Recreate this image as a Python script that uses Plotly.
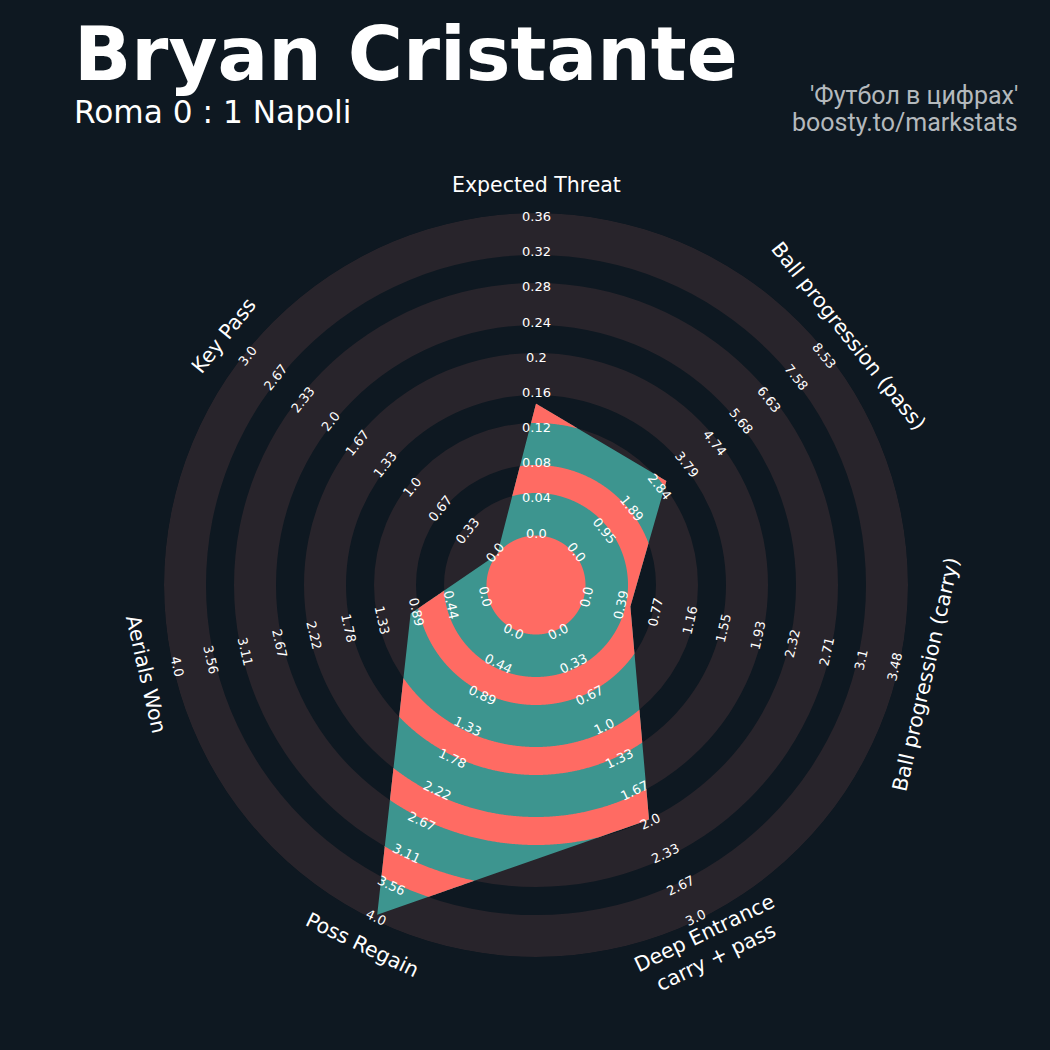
import numpy as np
import plotly.graph_objects as go

# ---------------- data ----------------
params = ["Expected Threat", "Ball progression (pass)", "Ball progression (carry)",
          "Deep Entrance<br>carry + pass", "Poss Regain", "Aerials Won", "Key Pass"]
values = [0.15, 3.16, 0.52, 2.0, 4.0, 1.0, 0.0]
min_range = [0.0, 0.0, 0.0, 0.0, 0.0, 0.0, 0.0]
max_range = [0.36, 8.53, 3.48, 3.0, 4.0, 4.0, 3.0]
tick_xt = ["0.0", "0.04", "0.08", "0.12", "0.16", "0.2", "0.24", "0.28", "0.32", "0.36"]
tick_pass = ["0.0", "0.95", "1.89", "2.84", "3.79", "4.74", "5.68", "6.63", "7.58", "8.53"]
tick_carry = ["0.0", "0.39", "0.77", "1.16", "1.55", "1.93", "2.32", "2.71", "3.1", "3.48"]
tick_deep = ["0.0", "0.33", "0.67", "1.0", "1.33", "1.67", "2.0", "2.33", "2.67", "3.0"]
tick_regain = ["0.0", "0.44", "0.89", "1.33", "1.78", "2.22", "2.67", "3.11", "3.56", "4.0"]
tick_aerial = ["0.0", "0.44", "0.89", "1.33", "1.78", "2.22", "2.67", "3.11", "3.56", "4.0"]
tick_keypass = ["0.0", "0.33", "0.67", "1.0", "1.33", "1.67", "2.0", "2.33", "2.67", "3.0"]
tick_labels = [tick_xt, tick_pass, tick_carry, tick_deep, tick_regain, tick_aerial, tick_keypass]
title = "Bryan Cristante"
subtitle = "Roma 0 : 1 Napoli"
credit1 = "'Футбол в цифрах'"
credit2 = "boosty.to/markstats"

# ---------------- style ----------------
W = H = 1050
CX, CY = 536, 585          # centre of the radar in page pixels
R_OUT = 372                 # outer edge of the rings
CENTER_R = 49.5             # centre circle radius (value = min)
R_MAX = 366                 # radius of value = max
GREY_BANDS = [(49.5, 92), (120, 162), (190, 232), (260, 302), (330, 372)]
CORAL_BANDS = [(0, 49.5), (92, 120), (162, 190), (232, 260), (302, 330)]
BG = "#0e1821"
GREY = "#28242b"
TEAL = "#3d958f"
CORAL = "#ff6b63"
LABEL_R = 400

n = len(params)
angles = [i * 360.0 / n for i in range(n)]


def scale(v, lo, hi):
    return CENTER_R + (v - lo) / (hi - lo) * (R_MAX - CENTER_R)


vr = [scale(v, lo, hi) for v, lo, hi in zip(values, min_range, max_range)]


def radar_radius(theta):
    t = theta % 360.0
    k = int(np.searchsorted(angles, t, side="right") - 1)
    t1, r1 = angles[k], vr[k]
    if k + 1 == n:
        t2, r2 = 360.0, vr[0]
    else:
        t2, r2 = angles[k + 1], vr[k + 1]
    a, a1, a2 = np.radians([t, t1, t2])
    return r1 * r2 * np.sin(a2 - a1) / (r1 * np.sin(a - a1) + r2 * np.sin(a2 - a))


thetas = np.unique(np.concatenate([np.arange(0, 360, 0.25), angles]))
thetas = np.append(thetas, 360.0)
R_theta = np.array([radar_radius(t) for t in thetas])

fig = go.Figure()

# background rings
fig.add_trace(go.Barpolar(
    r=[b - a for a, b in GREY_BANDS], base=[a for a, b in GREY_BANDS],
    theta=[180] * len(GREY_BANDS), width=[360] * len(GREY_BANDS),
    marker=dict(color=GREY, line=dict(width=0)), hoverinfo="skip", showlegend=False))

# radar polygon (teal)
fig.add_trace(go.Scatterpolar(
    r=vr + [vr[0]], theta=angles + [angles[0]], mode="lines", fill="toself",
    fillcolor=TEAL, line=dict(width=0, color=TEAL), hoverinfo="skip", showlegend=False))

# coral parts of the polygon (polygon intersected with the alternate rings)
for a, b in CORAL_BANDS:
    outer = np.clip(R_theta, a, b)
    rr = np.concatenate([outer, np.full(len(thetas), a)[::-1], [outer[0]]])
    tt = np.concatenate([thetas, thetas[::-1], [thetas[0]]])
    fig.add_trace(go.Scatterpolar(
        r=rr, theta=tt, mode="lines", fill="toself", fillcolor=CORAL,
        line=dict(width=0, color=CORAL), hoverinfo="skip", showlegend=False))

dom_x = [(CX - R_OUT) / W, (CX + R_OUT) / W]
dom_y = [1 - (CY + R_OUT) / H, 1 - (CY - R_OUT) / H]


def to_paper(r, theta):
    a = np.radians(theta)
    return (CX + r * np.sin(a)) / W, 1 - (CY - r * np.cos(a)) / H


def text_angle(theta):
    t = theta % 360
    if 90 < t < 270:
        t -= 180
    elif t >= 270:
        t -= 360
    return t


annotations = []
step = (R_MAX - CENTER_R) / 9
for ang, ticks in zip(angles, tick_labels):
    for i, lab in enumerate(ticks):
        x, y = to_paper(CENTER_R + i * step + 2.5, ang)
        annotations.append(dict(x=x, y=y, xref="paper", yref="paper", text=lab,
                                showarrow=False, textangle=text_angle(ang),
                                xanchor="center", yanchor="middle",
                                font=dict(family="DejaVu Sans", size=13, color="#ffffff")))
for ang, p in zip(angles, params):
    x, y = to_paper(LABEL_R, ang)
    annotations.append(dict(x=x, y=y, xref="paper", yref="paper", text=p,
                            showarrow=False, textangle=text_angle(ang),
                            xanchor="center", yanchor="middle",
                            font=dict(family="DejaVu Sans", size=20.5, color="#ffffff")))

annotations += [
    dict(x=72 / W, y=1 - 54 / H, xref="paper", yref="paper", text="<b>" + title + "</b>",
         showarrow=False, xanchor="left", yanchor="middle",
         font=dict(family="DejaVu Sans", size=75.2, color="#ffffff")),
    dict(x=72 / W, y=1 - 112 / H, xref="paper", yref="paper", text=subtitle,
         showarrow=False, xanchor="left", yanchor="middle",
         font=dict(family="DejaVu Sans", size=31.2, color="#ffffff")),
    dict(x=1020 / W, y=1 - 96 / H, xref="paper", yref="paper", text=credit1,
         showarrow=False, xanchor="right", yanchor="middle",
         font=dict(family="Roboto", size=25, color="#b4b9bd")),
    dict(x=1020 / W, y=1 - 123 / H, xref="paper", yref="paper", text=credit2,
         showarrow=False, xanchor="right", yanchor="middle",
         font=dict(family="Roboto", size=25, color="#b4b9bd")),
]

fig.update_layout(
    width=W, height=H, margin=dict(l=0, r=0, t=0, b=0),
    paper_bgcolor=BG, plot_bgcolor=BG, showlegend=False,
    polar=dict(domain=dict(x=dom_x, y=dom_y), bgcolor="rgba(0,0,0,0)",
               barmode="overlay", bargap=0, hole=0,
               radialaxis=dict(range=[0, R_OUT], visible=False),
               angularaxis=dict(visible=False, rotation=90, direction="clockwise")),
    annotations=annotations,
)

fig.write_html("out.html", config={"displayModeBar": False},
               post_script="document.body.style.margin='0';")
